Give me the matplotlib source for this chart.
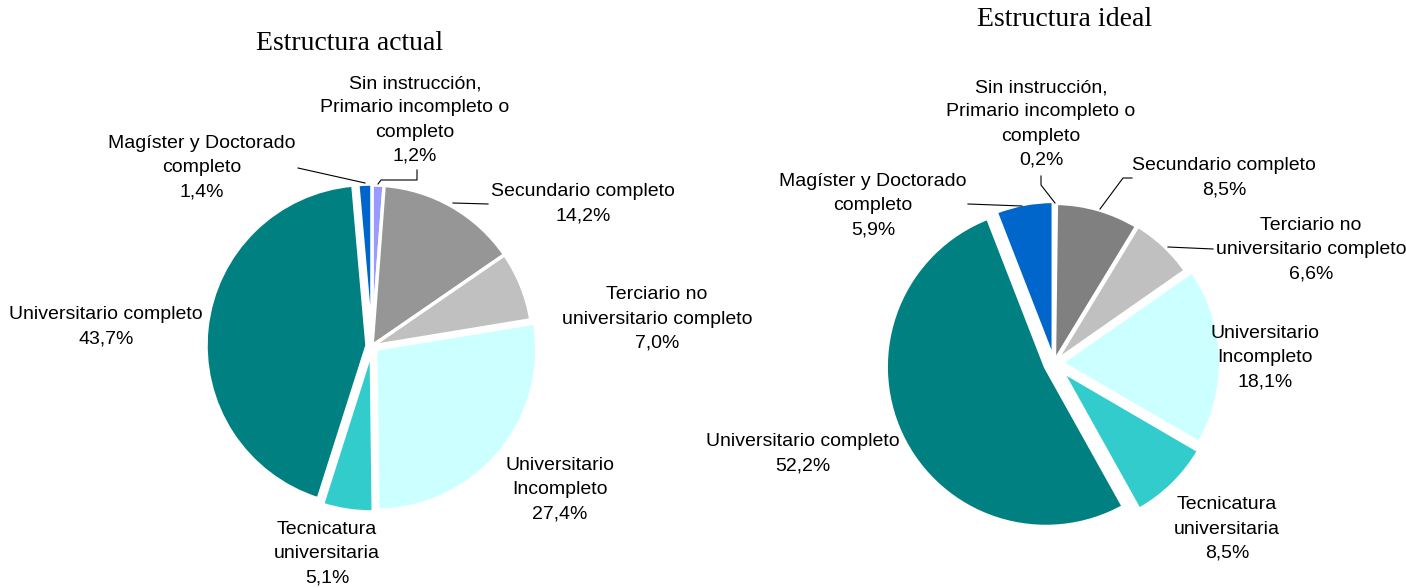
import matplotlib.pyplot as plt

# datos
categorias = ["Sin instrucción,\nPrimario incompleto o\ncompleto",
              "Secundario completo",
              "Terciario no\nuniversitario completo",
              "Universitario\nIncompleto",
              "Tecnicatura\nuniversitaria",
              "Universitario completo",
              "Magíster y Doctorado\ncompleto"]
actual = [1.2, 14.2, 7.0, 27.4, 5.1, 43.7, 1.4]
ideal = [0.2, 8.5, 6.6, 18.1, 8.5, 52.2, 5.9]

colores_actual = ["#9999FF", "#969696", "#C0C0C0", "#CCFFFF", "#33CCCC", "#008080", "#0066CC"]
colores_ideal = ["#9999FF", "#808080", "#C0C0C0", "#CCFFFF", "#33CCCC", "#008080", "#0066CC"]

plt.rcParams['font.family'] = ['Liberation Sans', 'DejaVu Sans']

W, H = 1406, 588
fig = plt.figure(figsize=(W / 100, H / 100), dpi=100)
ax = fig.add_axes([0, 0, 1, 1])


def Y(y):
    return H - y


def etiqueta(cat, v):
    return cat + "\n" + ("%.1f" % v).replace(".", ",") + "%"


# pie izquierdo
ax.pie(actual, colors=colores_actual, startangle=90, counterclock=False,
       center=(372, Y(346)), radius=161, explode=[0, 0, 0, 5, 5, 5, 1],
       wedgeprops=dict(edgecolor="white", linewidth=2.5))

# pie derecho
ax.pie(ideal, colors=colores_ideal, startangle=90, counterclock=False,
       center=(1054, Y(363)), radius=160, explode=[0, 0, 1, 7, 10, 9, 2],
       wedgeprops=dict(edgecolor="white", linewidth=3))

ax.set_xlim(0, W)
ax.set_ylim(0, H)
ax.set_aspect("equal")
ax.axis("off")

# posiciones de etiquetas (centro del texto)
pos_actual = [(415, 120), (202, 168), (583, 204), (657, 319), (560, 490), (327, 554), (106, 327)]
pos_ideal = [(1041, 124), (873, 206), (1224, 178), (1311, 250), (1265, 358), (1227, 529), (803, 454)]
# orden de pos: sin, magister, secundario, terciario, univ inc, tecnicatura, univ completo
orden = [0, 6, 1, 2, 3, 4, 5]

for vals, pos in [(actual, pos_actual), (ideal, pos_ideal)]:
    for (x, y), i in zip(pos, orden):
        ax.text(x, Y(y), etiqueta(categorias[i], vals[i]), ha="center", va="center",
                fontsize=14, linespacing=1.55)

# lineas guia
lineas = [
    [(378, 184), (381, 180), (417, 180), (417, 170)],
    [(298, 168), (365, 183)],
    [(453, 203), (488, 204)],
    [(1041, 176), (1041, 185), (1055, 203)],
    [(968, 204), (1022, 206)],
    [(1100, 209), (1123, 178), (1132, 178)],
    [(1168, 247), (1213, 249)],
]
for ln in lineas:
    ax.plot([p[0] for p in ln], [Y(p[1]) for p in ln], color="black", lw=0.8)

ax.text(350, Y(43), "Estructura actual", ha="center", va="center",
        fontsize=20, family="Liberation Serif")
ax.text(1065, Y(20), "Estructura ideal", ha="center", va="center",
        fontsize=20, family="Liberation Serif")

plt.savefig("out.png", dpi=100)
